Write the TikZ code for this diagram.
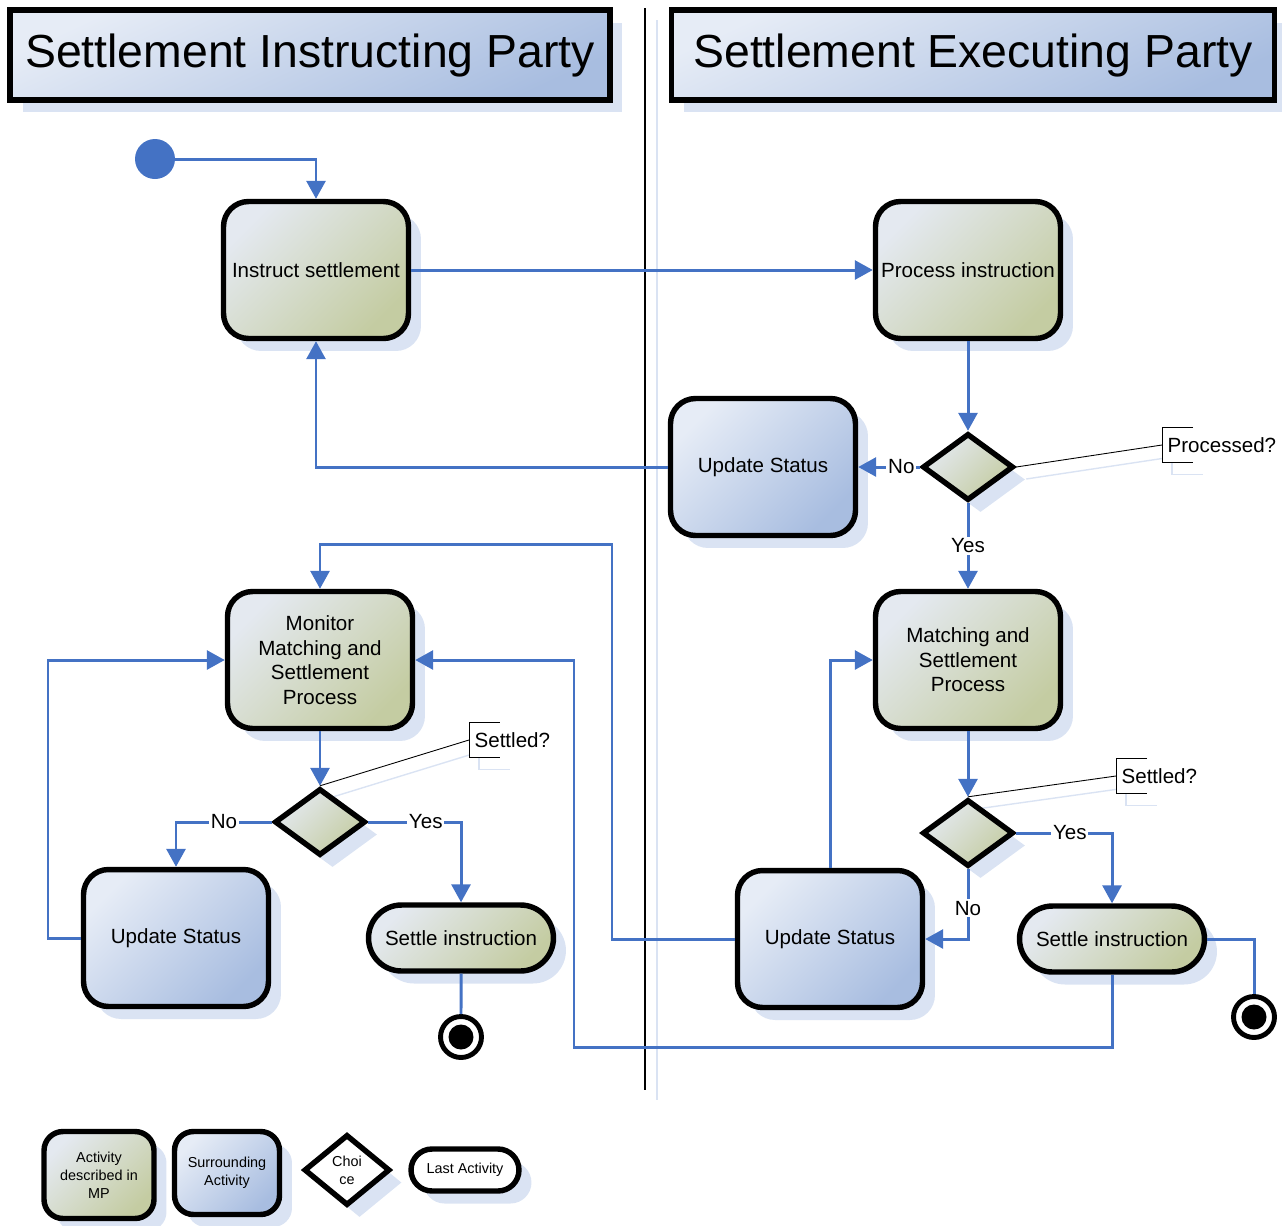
\documentclass[tikz,border=0pt]{standalone}
\usepackage{fontspec}
\setmainfont{Liberation Sans}
\usetikzlibrary{arrows.meta, shapes.geometric, shapes.misc, shadows, backgrounds}

\definecolor{flowblue}{HTML}{4472C4}
\definecolor{shadowblue}{HTML}{DAE3F3}
\definecolor{greenA}{HTML}{E4E9F0}
\definecolor{greenB}{HTML}{C4CCA2}
\definecolor{blueA}{HTML}{E6ECF6}
\definecolor{blueB}{HTML}{A8BDE0}

\begin{document}
\begin{tikzpicture}[x=0.02cm, y=-0.02cm,
  shadowed/.style={drop shadow={shadow xshift=0.25cm, shadow yshift=-0.25cm, fill=shadowblue, opacity=1}},
  base/.style={shadowed, draw=black, line width=3.1pt, align=center, inner sep=2pt, font=\fontsize{11.7}{14}\selectfont},
  title/.style={base, rectangle, minimum height=1.8cm, top color=blueA, bottom color=blueB, shading angle=25, font=\fontsize{26.4}{30}\selectfont},
  mpact/.style={base, rectangle, rounded corners=0.5cm, minimum width=3.7cm, minimum height=2.74cm, top color=greenA, bottom color=greenB, shading angle=45},
  otheract/.style={mpact, top color=blueA, bottom color=blueB, shading angle=45},
  pill/.style={base, rounded rectangle, minimum width=3.84cm, minimum height=1.32cm},
  lastact/.style={pill, top color=greenA, bottom color=greenB, shading angle=45},
  rhomb/.style={base, diamond, inner sep=0pt, minimum width=1.82cm, minimum height=1.34cm},
  choice/.style={rhomb, top color=greenA, bottom color=greenB, shading angle=45},
  endstate/.style={circle, draw=black, line width=2.8pt, fill=white, minimum size=0.82cm, inner sep=0pt,
    path picture={\fill[black] (path picture bounding box.center) circle (0.25cm);}},
  flow/.style={draw=flowblue, line width=1.7pt, -{Triangle[width=0.38cm, length=0.36cm]}},
  plain/.style={draw=flowblue, line width=1.7pt},
  lbl/.style={fill=white, inner sep=1pt, font=\fontsize{11.7}{14}\selectfont},
  note/.style={anchor=west, fill=white, inner xsep=3pt, inner ysep=2pt, minimum height=0.68cm, font=\fontsize{11.7}{14}\selectfont},
  noteline/.style={draw=black, line width=0.5pt},
  noteshadow/.style={draw=shadowblue, line width=0.8pt, transform canvas={shift={(0.2cm,-0.24cm)}}},
  legend/.style={font=\fontsize{8.2}{10.2}\selectfont}]
\useasboundingbox (0,0) rectangle (1282,1225);

% swimlane dividers
\draw[shadowblue, line width=1pt] (657,20) -- (657,1100);
\draw[black, line width=0.9pt] (645,8) -- (645,1090);

% lane titles
\node[title, minimum width=12cm] (lane1) at (310,55) {Settlement Instructing Party};
\node[title, minimum width=12.06cm] (lane2) at (973,55) {Settlement Executing Party};

% activities
\node[circle, fill=flowblue, minimum size=0.8cm, inner sep=0pt] (start) at (155,159) {};
\node[mpact] (instr) at (316,270) {Instruct settlement};
\node[mpact] (proc) at (968,270) {Process instruction};
\node[choice] (dec1) at (968,467) {};
\node[otheract] (upd1) at (763,467) {Update Status};
\node[mpact] (match) at (968,660) {Matching and\\Settlement\\Process};
\node[mpact] (monitor) at (320,660) {Monitor\\Matching and\\Settlement\\Process};
\node[choice] (dec2) at (320,822) {};
\node[choice] (dec3) at (968,833) {};
\node[otheract] (upd2) at (176,938) {Update Status};
\node[lastact] (settle1) at (461,938) {Settle instruction};
\node[otheract] (upd3) at (830,939) {Update Status};
\node[lastact] (settle2) at (1112,939) {Settle instruction};
\node[endstate] (end1) at (461,1037) {};
\node[endstate] (end2) at (1254,1017) {};

% bends of the long connectors
\coordinate (loopA) at (612,544);
\coordinate (loopB) at (574,1047);
\coordinate (loopC) at (48,938);

% connectors
\draw[flow] (start) -| (instr);
\draw[flow] (instr) -- (proc);
\draw[flow] (proc) -- (dec1);
\draw[flow] (dec1) -- node[lbl, pos=0.3] {No} (upd1);
\draw[flow] (upd1) -| (instr);
\draw[flow] (dec1) -- node[lbl] {Yes} (match);
\draw[flow] (match) -- (dec3);
\draw[flow] (dec3) -| node[lbl, pos=0.28] {Yes} (settle2);
\draw[flow] (dec3) |- node[lbl, pos=0.28] {No} (upd3);
\draw[flow] (upd3) |- (match);
\draw[flow] (upd3) -| (loopA) -| (monitor);
\draw[plain] (settle2) -| (end2);
\draw[flow] (settle2) |- (loopB) |- (monitor);
\draw[flow] (monitor) -- (dec2);
\draw[flow] (dec2) -| node[lbl, pos=0.25] {No} (upd2);
\draw[flow] (dec2) -| node[lbl, pos=0.31] {Yes} (settle1);
\draw[plain] (settle1) -- (end1);
\draw[flow] (upd2) -- (loopC) |- (monitor);

% annotations
\node[note] (procnote) at (1162,445) {Processed?};
\node[note] (setnote1) at (469,740) {Settled?};
\node[note] (setnote2) at (1116,776) {Settled?};
\foreach \n/\d/\a in {procnote/dec1/east, setnote1/dec2/north, setnote2/dec3/north} {
  \begin{scope}[on background layer]
    \draw[noteshadow] (\d.\a) -- (\n.west);
    \draw[noteshadow] ([xshift=0.62cm]\n.north west) -| (\n.south west) -- ++(0.62cm,0);
  \end{scope}
  \draw[noteline] (\d.\a) -- (\n.west);
  \draw[noteline] ([xshift=0.62cm]\n.north west) -| (\n.south west) -- ++(0.62cm,0);
}

% legend
\node[mpact, legend, minimum width=2.2cm, minimum height=1.74cm, rounded corners=0.38cm] (keymp) at (99,1175) {Activity\\described in\\MP};
\node[otheract, legend, minimum width=2.1cm, minimum height=1.66cm, rounded corners=0.38cm] (keyother) at (227,1173) {Surrounding\\Activity};
\node[rhomb, legend, fill=white, minimum width=1.72cm, minimum height=1.42cm] (keychoice) at (347,1170) {Choi\\ce};
\node[pill, legend, fill=white, minimum width=2.3cm, minimum height=0.84cm] (keylast) at (465,1170) {Last Activity};
\end{tikzpicture}
\end{document}
